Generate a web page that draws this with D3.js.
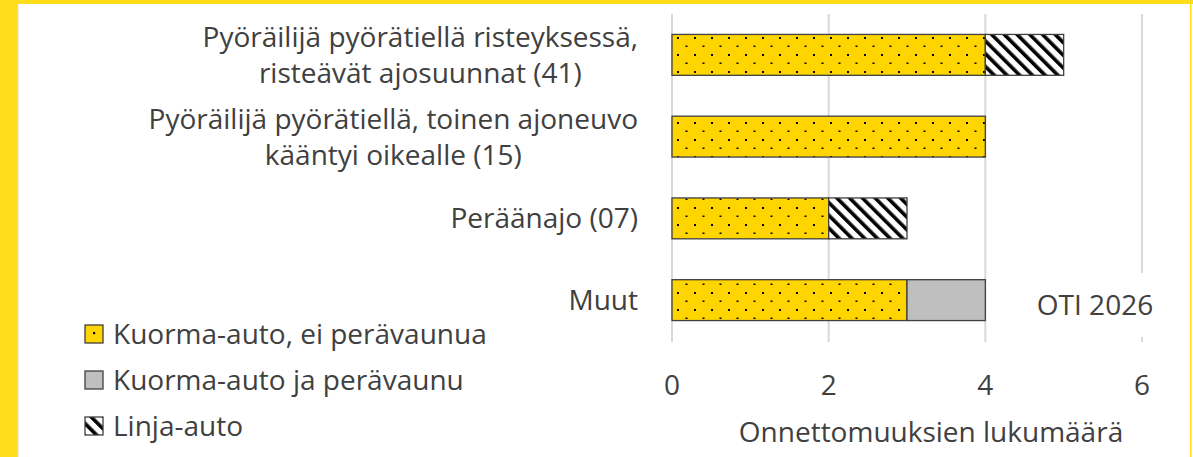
<!DOCTYPE html>
<html>
<head>
<meta charset="utf-8">
<script src="https://cdn.jsdelivr.net/npm/d3@7"></script>
<style>
  body { margin: 0; background: #fff; }
  svg { display: block; font-family: "Open Sans", "Noto Sans", sans-serif; }
</style>
</head>
<body>
<svg id="chart" width="1193" height="457"></svg>
<script>
// categories, top to bottom (each is a list of label lines)
const categories = [
    ["Pyöräilijä pyörätiellä risteyksessä,", "risteävät ajosuunnat (41)"],
    ["Pyöräilijä pyörätiellä, toinen ajoneuvo", "kääntyi oikealle (15)"],
    ["Peräänajo (07)"],
    ["Muut"]
];
const seriesNames = ["Kuorma-auto, ei perävaunua", "Kuorma-auto ja perävaunu", "Linja-auto"];
const truckNoTrailer = [4, 4, 2, 3];
const truckTrailer = [0, 0, 0, 1];
const bus = [1, 0, 1, 0];
const xTicks = [0, 2, 4, 6];
const xTitle = "Onnettomuuksien lukumäärä";
const sourceNote = "OTI 2026";

const textColor = "#404040";
const fontSize = 28;
const svg = d3.select("#chart");
const defs = svg.append("defs");

// dotted yellow fill
const dots = defs.append("pattern").attr("id", "dots").attr("patternUnits", "userSpaceOnUse")
    .attr("width", 17).attr("height", 17).attr("x", 672).attr("y", 0);
dots.append("rect").attr("width", 17).attr("height", 17).attr("fill", "#FFD500");
dots.append("rect").attr("x", 5).attr("y", 3).attr("width", 2).attr("height", 2).attr("fill", "#000");
dots.append("rect").attr("x", 13.5).attr("y", 11.5).attr("width", 2).attr("height", 1.5).attr("fill", "#000");

// legend version: a single dot in the centre
const dotsLeg = defs.append("pattern").attr("id", "dotsLeg").attr("patternUnits", "objectBoundingBox")
    .attr("width", 1).attr("height", 1);
dotsLeg.append("rect").attr("width", 18).attr("height", 18).attr("fill", "#FFD500");
dotsLeg.append("rect").attr("x", 8).attr("y", 7).attr("width", 2.2).attr("height", 2.2).attr("fill", "#000");

// diagonal hatch
const hatch = defs.append("pattern").attr("id", "hatch").attr("patternUnits", "userSpaceOnUse")
    .attr("width", 9).attr("height", 9).attr("patternTransform", "rotate(-45)");
hatch.append("rect").attr("width", 9).attr("height", 9).attr("fill", "#fff");
hatch.append("rect").attr("x", 0).attr("width", 3.6).attr("height", 9).attr("fill", "#000");

const fills = ["url(#dots)", "#BFBFBF", "url(#hatch)"];
const legendFills = ["url(#dotsLeg)", "#BFBFBF", "url(#hatch)"];

// yellow frame
svg.append("rect").attr("x", 0).attr("y", 0).attr("width", 17).attr("height", 457).attr("fill", "#FFDD1A");
svg.append("rect").attr("x", 0).attr("y", 0).attr("width", 1193).attr("height", 4).attr("fill", "#FFDD1A");
svg.append("rect").attr("x", 17).attr("y", 4).attr("width", 1.5).attr("height", 453).attr("fill", "#D9D9D9");
svg.append("rect").attr("x", 1190).attr("y", 0).attr("width", 1.5).attr("height", 457).attr("fill", "#FFDD1A");

const x = d3.scaleLinear().domain([0, 6]).range([672, 1142]);
const y = d3.scaleBand().domain(d3.range(categories.length)).range([14, 341]).paddingInner(0.5).paddingOuter(0.25);

// gridlines
svg.append("g").selectAll("line").data(xTicks).join("line")
    .attr("x1", d => x(d)).attr("x2", d => x(d))
    .attr("y1", 14).attr("y2", 342)
    .attr("stroke", "#D9D9D9").attr("stroke-width", 2);

// stacked bars
const rows = categories.map((c, i) => ({ i, values: [truckNoTrailer[i], truckTrailer[i], bus[i]] }));
const stack = d3.stack().keys([0, 1, 2]).value((d, k) => d.values[k]);
const layers = stack(rows);

svg.append("g").selectAll("g").data(layers).join("g")
    .attr("fill", (d, k) => fills[k])
    .selectAll("rect").data(d => d.filter(s => s[1] > s[0])).join("rect")
    .attr("x", d => x(d[0]))
    .attr("y", d => y(d.data.i))
    .attr("width", d => x(d[1]) - x(d[0]))
    .attr("height", y.bandwidth())
    .attr("stroke", "#404040").attr("stroke-width", 1.3);

// category labels, lines centered inside a right-aligned block
const labelG = svg.append("g").attr("fill", textColor).attr("font-size", fontSize);
categories.forEach((lines, i) => {
    const cy = y(i) + y.bandwidth() / 2;
    const lineH = 36;
    const t = labelG.append("text").attr("text-anchor", "middle");
    lines.forEach((ln, j) => {
        t.append("tspan").attr("y", cy + (j - (lines.length - 1) / 2) * lineH + 10).text(ln);
    });
    // measure widest line then center every line within block ending at 638
    const widths = t.selectAll("tspan").nodes().map(n => n.getComputedTextLength());
    const w = d3.max(widths);
    t.selectAll("tspan").attr("x", 638 - w / 2);
});

// x tick labels
svg.append("g").attr("fill", textColor).attr("font-size", fontSize).attr("text-anchor", "middle")
    .selectAll("text").data(xTicks).join("text")
    .attr("x", d => x(d)).attr("y", 395).text(d => d);

svg.append("text").attr("x", 931).attr("y", 442).attr("text-anchor", "middle")
    .attr("fill", textColor).attr("font-size", fontSize).text(xTitle);

// source note with white box over gridline
svg.append("rect").attr("x", 1025).attr("y", 273).attr("width", 140).attr("height", 64).attr("fill", "#fff");
svg.append("text").attr("x", 1095).attr("y", 315).attr("text-anchor", "middle")
    .attr("fill", textColor).attr("font-size", fontSize).text(sourceNote);

// legend
const legend = svg.append("g").selectAll("g").data(seriesNames).join("g")
    .attr("transform", (d, i) => `translate(85,${334 + i * 46})`);
legend.append("rect").attr("x", 0).attr("y", -9).attr("width", 18).attr("height", 18)
    .attr("fill", (d, i) => legendFills[i]).attr("stroke", "#404040").attr("stroke-width", 1.3);
legend.append("text").attr("x", 28).attr("y", 10).attr("fill", textColor).attr("font-size", fontSize).text(d => d);
</script>
</body>
</html>
